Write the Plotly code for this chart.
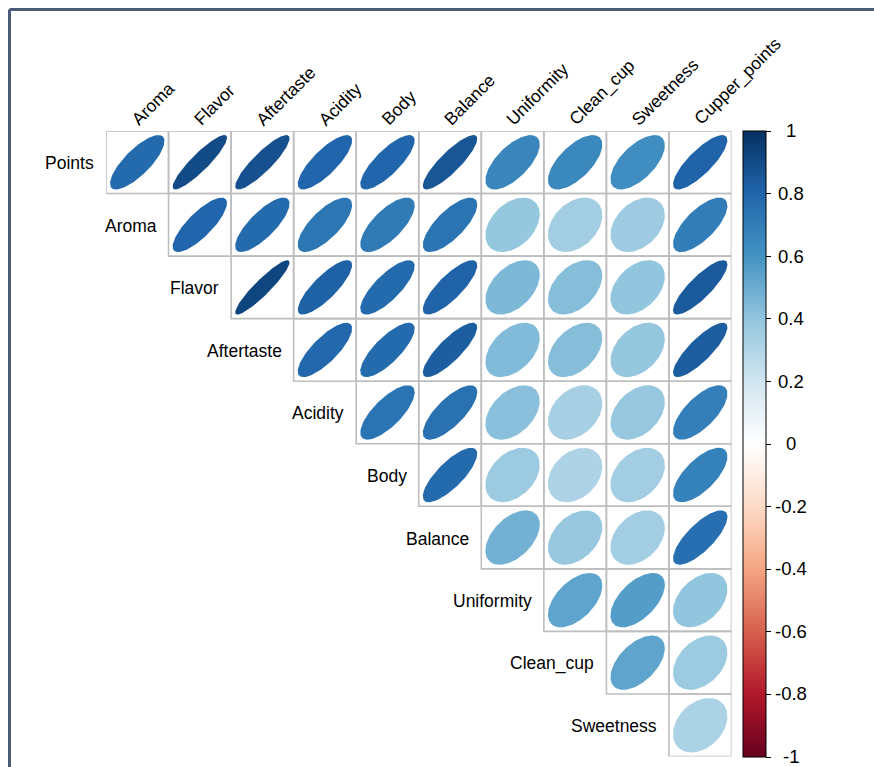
import numpy as np
import plotly.graph_objects as go
from plotly.colors import sample_colorscale

# Variables of the cupping score correlation matrix
row_labels = ["Points", "Aroma", "Flavor", "Aftertaste", "Acidity", "Body",
              "Balance", "Uniformity", "Clean_cup", "Sweetness"]
col_labels = ["Aroma", "Flavor", "Aftertaste", "Acidity", "Body", "Balance",
              "Uniformity", "Clean_cup", "Sweetness", "Cupper_points"]

# Upper-triangle correlations, one list per row (starting at the diagonal column)
corr_points = [0.78, 0.90, 0.88, 0.80, 0.80, 0.86, 0.66, 0.65, 0.62, 0.81]
corr_aroma = [0.80, 0.78, 0.73, 0.71, 0.74, 0.39, 0.35, 0.36, 0.70]
corr_flavor = [0.92, 0.82, 0.78, 0.81, 0.45, 0.43, 0.40, 0.84]
corr_aftertaste = [0.79, 0.78, 0.83, 0.44, 0.43, 0.39, 0.83]
corr_acidity = [0.74, 0.75, 0.42, 0.33, 0.38, 0.69]
corr_body = [0.78, 0.37, 0.31, 0.35, 0.68]
corr_balance = [0.48, 0.38, 0.35, 0.76]
corr_uniformity = [0.53, 0.56, 0.40]
corr_clean_cup = [0.53, 0.37]
corr_sweetness = [0.32]

corr_rows = [corr_points, corr_aroma, corr_flavor, corr_aftertaste, corr_acidity,
             corr_body, corr_balance, corr_uniformity, corr_clean_cup, corr_sweetness]

# Colour bar ticks
cbar_ticks = [1, 0.8, 0.6, 0.4, 0.2, 0, -0.2, -0.4, -0.6, -0.8, -1]
cbar_ticktext = ["1", "0.8", "0.6", "0.4", "0.2", "0", "-0.2", "-0.4", "-0.6", "-0.8", "-1"]

# Diverging red-white-blue palette
rdbu_colors = ["#67001F", "#B2182B", "#D6604D", "#F4A582", "#FDDBC7", "#FFFFFF",
               "#D1E5F0", "#92C5DE", "#4393C3", "#2166AC", "#053061"]
colorscale = [[i / (len(rdbu_colors) - 1), c] for i, c in enumerate(rdbu_colors)]

W, H = 874, 767
grid_left, grid_right = 106, 731.5
grid_top, grid_bottom = 131, 756.5
n = len(col_labels)

FONT = "Arial, Liberation Sans, sans-serif"
LABEL_SIZE = 17.5

fig = go.Figure()

# Ellipse outline for a given correlation (corrplot style)
t = np.linspace(0, 2 * np.pi, 120)
scale = 0.87


def ellipse(rho):
    a = np.arccos(rho)
    dx = scale * np.cos(t + a / 2) / 2
    dy = scale * np.cos(t - a / 2) / 2
    return dx, dy


shapes = []
for i, row in enumerate(corr_rows):
    for k, r in enumerate(row):
        j = i + k
        dx, dy = ellipse(r)
        col = sample_colorscale(colorscale, [(r + 1) / 2])[0]
        fig.add_trace(go.Scatter(
            x=j + dx, y=i - dy, mode="lines", fill="toself",
            fillcolor=col, line=dict(width=0, color=col),
            hoverinfo="skip", showlegend=False))
        shapes.append(dict(type="rect", xref="x", yref="y",
                           x0=j - 0.5, x1=j + 0.5, y0=i - 0.5, y1=i + 0.5,
                           line=dict(color="#bebebe", width=1.6),
                           fillcolor="rgba(0,0,0,0)", layer="above"))

# Colour bar carried by an empty trace; its labels are centred text next to the ticks
fig.add_trace(go.Scatter(
    x=[None], y=[None], mode="markers", showlegend=False, hoverinfo="skip",
    marker=dict(color=[0], cmin=-1, cmax=1, colorscale=colorscale, showscale=True,
                colorbar=dict(
                    x=743 / W, xanchor="left", xpad=0, ypad=0,
                    y=(H - grid_top) / H, yanchor="top",
                    lenmode="pixels", len=grid_bottom - grid_top,
                    thicknessmode="pixels", thickness=23,
                    outlinewidth=1, outlinecolor="black",
                    tickmode="array", tickvals=cbar_ticks, showticklabels=False,
                    ticks="outside", ticklen=5, tickcolor="black", tickwidth=1,
                    bgcolor="rgba(0,0,0,0)", borderwidth=0))))

annotations = []
bar_top_frac = (H - grid_top) / H
bar_len_frac = (grid_bottom - grid_top) / H
for v, txt in zip(cbar_ticks, cbar_ticktext):
    annotations.append(dict(x=791 / W, y=bar_top_frac - (1 - v) / 2 * bar_len_frac,
                            xref="paper", yref="paper", text=txt, showarrow=False,
                            xanchor="center", yanchor="middle",
                            font=dict(family=FONT, size=18.5, color="black")))

# Row labels to the left of the first cell of each row
for i, lab in enumerate(row_labels):
    annotations.append(dict(x=i - 0.5, y=i, xref="x", yref="y", text=lab,
                            showarrow=False, xanchor="right", yanchor="middle",
                            xshift=-10, yshift=-1,
                            font=dict(family=FONT, size=LABEL_SIZE, color="black")))
# Rotated column labels above the grid
for j, lab in enumerate(col_labels):
    annotations.append(dict(x=j, y=-0.5, xref="x", yref="y", text=lab,
                            showarrow=False, xanchor="left", yanchor="bottom",
                            textangle=-45, xshift=-13, yshift=-1,
                            font=dict(family=FONT, size=LABEL_SIZE, color="black")))

# Outer frame (top and left edges)
frame_col = "#4d5a75"
shapes.append(dict(type="line", xref="paper", yref="paper",
                   x0=9.5 / W, x1=1.0, y0=(H - 9.5) / H, y1=(H - 9.5) / H,
                   line=dict(color=frame_col, width=3)))
shapes.append(dict(type="line", xref="paper", yref="paper",
                   x0=9.5 / W, x1=9.5 / W, y0=0, y1=(H - 9.5) / H,
                   line=dict(color=frame_col, width=3)))

fig.update_layout(
    width=W, height=H, margin=dict(l=0, r=0, t=0, b=0),
    paper_bgcolor="white", plot_bgcolor="white",
    xaxis=dict(range=[-0.5, n - 0.5], domain=[grid_left / W, grid_right / W],
               visible=False, fixedrange=True),
    yaxis=dict(range=[n - 0.5, -0.5], domain=[(H - grid_bottom) / H, (H - grid_top) / H],
               visible=False, fixedrange=True),
    shapes=shapes, annotations=annotations, showlegend=False)

fig.write_html("out.html")
